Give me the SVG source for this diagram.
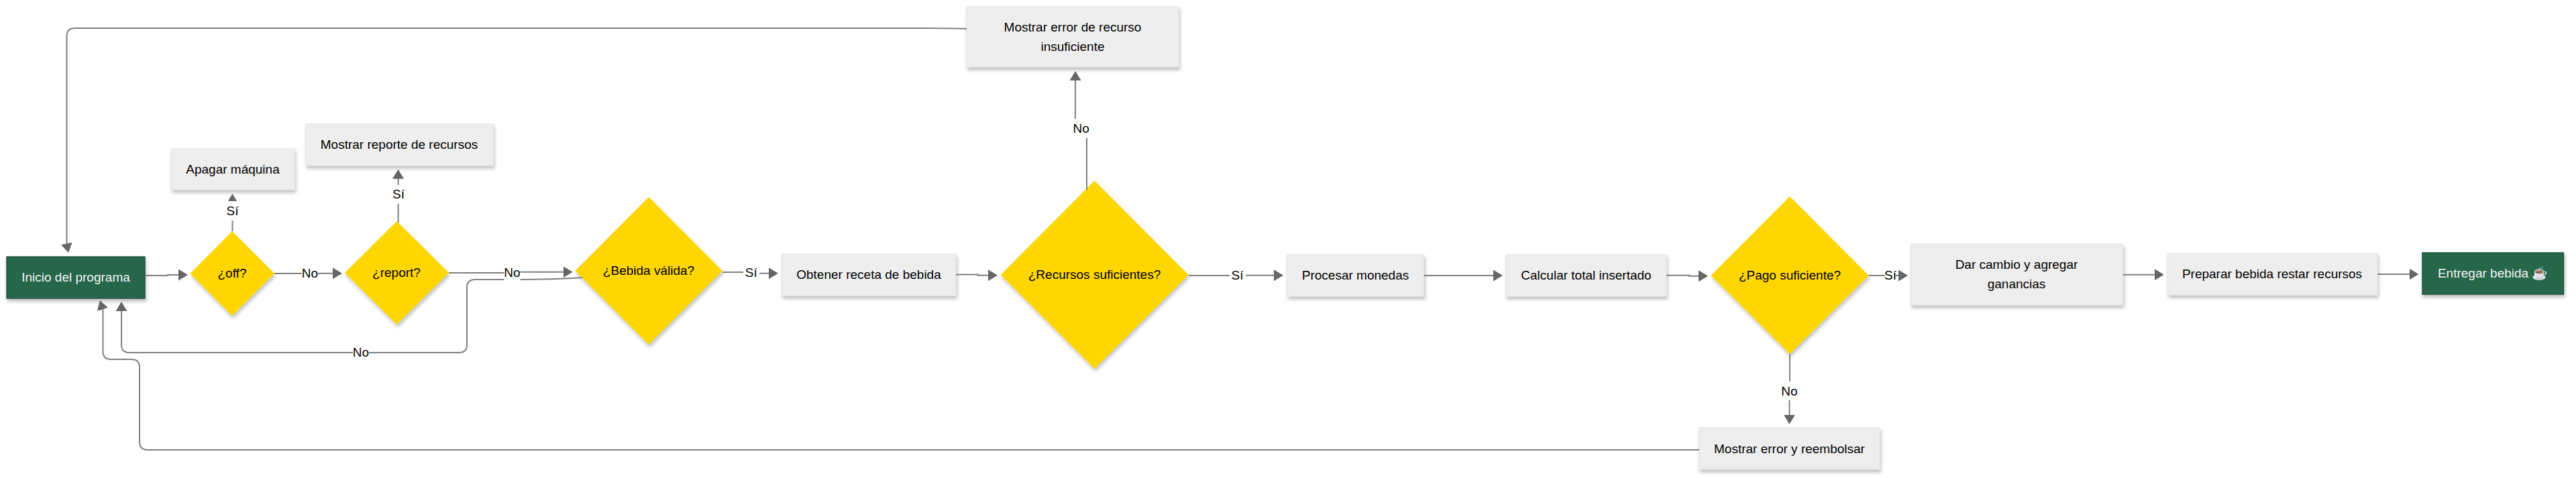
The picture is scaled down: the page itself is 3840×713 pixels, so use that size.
<svg xmlns="http://www.w3.org/2000/svg" width="3840" height="713" viewBox="0 0 3840 713">
<style>
text{font-family:"Liberation Sans",Arial,"Noto Color Emoji",sans-serif;font-size:19px;fill:#000;text-anchor:middle}
.p rect{fill:#eee;stroke:#e2e2e2;stroke-width:1;filter:url(#s)}
.g rect{fill:#27664b;stroke:#235240;stroke-width:1.5;filter:url(#s)}
.g text{fill:#f4f4f4}
.d polygon{fill:#ffd600;filter:url(#s)}
#connectors path{fill:none;stroke:#808080;stroke-width:2;marker-end:url(#a)}
.l rect{fill:#fff}
</style>
<defs>
<filter id="s" x="-10%" y="-10%" width="120%" height="125%"><feDropShadow dx="1.5" dy="4" stdDeviation="2.5" flood-color="#000" flood-opacity=".25"/></filter>
<marker id="a" markerUnits="userSpaceOnUse" markerWidth="14" markerHeight="17" refX="12" refY="8.5" orient="auto"><path d="M0,0L14,8.5L0,17Z" fill="#666"/></marker>
</defs>
<g id="n-inicio" class="g"><rect x="10" y="383" width="206" height="62"/><text x="113" y="420">Inicio del programa</text></g>
<g id="n-off" class="d"><polygon points="346,345 409,408 346,471 283.500,408"/><text x="346" y="414">¿off?</text></g>
<g id="n-apagar" class="p"><rect x="255.500" y="222" width="183.500" height="61"/><text x="347" y="259">Apagar máquina</text></g>
<g id="n-report" class="d"><polygon points="591.500,330 669,407 591.500,484 514,407"/><text x="591" y="413">¿report?</text></g>
<g id="n-reporte" class="p"><rect x="456" y="185" width="279" height="62"/><text x="595" y="222">Mostrar reporte de recursos</text></g>
<g id="n-bebida" class="d"><polygon points="967,294 1076.700,404 967,514 857.400,404"/><text x="967" y="410">¿Bebida válida?</text></g>
<g id="n-receta" class="p"><rect x="1165.700" y="379" width="259.300" height="62"/><text x="1295" y="416">Obtener receta de bebida</text></g>
<g id="n-recursos" class="d"><polygon points="1631.600,269.500 1771.600,410 1631.600,550 1491.700,410"/><text x="1631.500" y="416">¿Recursos suficientes?</text></g>
<g id="n-error-recurso" class="p"><rect x="1441" y="10" width="316" height="90"/><text x="1599" y="47">Mostrar error de recurso</text><text x="1599" y="76">insuficiente</text></g>
<g id="n-monedas" class="p"><rect x="1919" y="380" width="203.500" height="62"/><text x="2020.500" y="417">Procesar monedas</text></g>
<g id="n-total" class="p"><rect x="2245" y="380" width="239" height="62"/><text x="2364.500" y="417">Calcular total insertado</text></g>
<g id="n-pago" class="d"><polygon points="2668,293 2785.600,411 2668,528 2550.500,411"/><text x="2668" y="417">¿Pago suficiente?</text></g>
<g id="n-cambio" class="p"><rect x="2849" y="364" width="315.700" height="91"/><text x="3006" y="401">Dar cambio y agregar</text><text x="3006" y="430">ganancias</text></g>
<g id="n-preparar" class="p"><rect x="3231.600" y="378" width="312.400" height="62"/><text x="3387" y="415">Preparar bebida restar recursos</text></g>
<g id="n-entregar" class="g"><rect x="3611" y="377" width="210.500" height="62"/><text x="3716" y="414">Entregar bebida ☕</text></g>
<g id="n-reembolso" class="p"><rect x="2533" y="638" width="269" height="62"/><text x="2667.500" y="676">Mostrar error y reembolsar</text></g>
<g id="connectors">
<path d="M216,411L250,411L250,410L278,410"/>
<path d="M409,408L508,407.700"/>
<path d="M669,407L760,407L760,405.700L851.600,405.700"/>
<path d="M868,414C830,417 800,417 760,417L708,417Q696,417 696,429L696,514Q696,526 684,526L193,526Q181,526 181,514L181,452"/>
<path d="M2533,671L220,671Q208,671 208,659L208,548Q208,536 196,536L165,536Q153.500,536 153.500,524L153.500,463L149.400,450"/>
<path d="M1441,43C1420,42 1400,42 1380,42L112,42Q99.500,42 99.500,54L99.500,364.500L101.600,375"/>
<path d="M346.500,345L346.500,291"/>
<path d="M593.600,332L593.600,290L593.600,254.700"/>
<path d="M1620,283L1620,191L1603,191L1603,108"/>
<path d="M1076.700,406L1120,406L1120,407.700L1158,407.700"/>
<path d="M1425,409.500L1458,409.500L1458,410.700L1485,410.700"/>
<path d="M1771.600,411L1845,411L1845,410.700L1911,410.700"/>
<path d="M2122.500,411L2238,411"/>
<path d="M2484,410.700L2518,410.700L2518,411.700L2544,411.700"/>
<path d="M2785.600,411L2842,411"/>
<path d="M3164.700,409.700L3223.800,409.700"/>
<path d="M3544,409L3603.500,409"/>
<path d="M2668,528L2668,583L2667.500,583L2667.500,630.700"/>
<g class="l"><rect x="334" y="300" width="25" height="29"/><text x="346.500" y="321">Sí</text></g>
<g class="l"><rect x="581" y="276" width="25" height="28"/><text x="594" y="296">Sí</text></g>
<g class="l"><rect x="450" y="393" width="24" height="29"/><text x="462" y="414">No</text></g>
<g class="l"><rect x="751.500" y="392" width="24" height="29"/><text x="763.500" y="413">No</text></g>
<g class="l"><rect x="526" y="511" width="24" height="29"/><text x="538" y="532">No</text></g>
<g class="l"><rect x="1108" y="393" width="24" height="29"/><text x="1119.700" y="413">Sí</text></g>
<g class="l"><rect x="1597" y="177" width="30" height="29"/><text x="1611.700" y="198">No</text></g>
<g class="l"><rect x="1833" y="397" width="24" height="29"/><text x="1844.600" y="417">Sí</text></g>
<g class="l"><rect x="2810" y="397" width="16" height="29"/><text x="2818" y="417">Sí</text></g>
<g class="l"><rect x="2653" y="569" width="30" height="28"/><text x="2667.500" y="590">No</text></g>
</g>
</svg>
